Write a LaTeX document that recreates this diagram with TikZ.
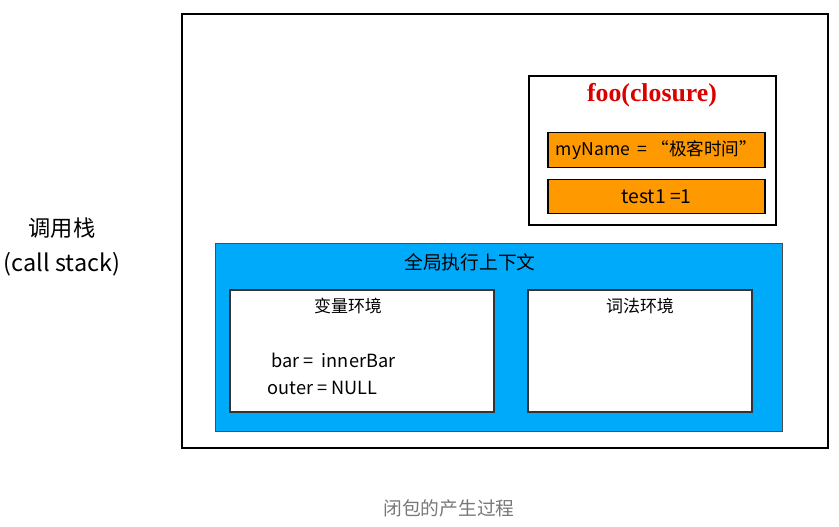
\documentclass[tikz,border=0pt]{standalone}
\usepackage{fontspec}
\setmainfont{Noto Sans CJK SC}
\newfontfamily\titlefont{Liberation Serif}
\usepackage{tikz}
\usetikzlibrary{positioning}
\definecolor{ctxblue}{RGB}{0,170,250}
\definecolor{varorange}{RGB}{255,153,0}
\definecolor{captiongray}{RGB}{120,120,120}
\tikzstyle{stackbox} =
[rectangle, minimum width = 19.38cm, minimum height = 13.02cm, inner sep=0pt,
draw=black, line width=2pt]
\tikzstyle{closurebox} =
[rectangle, minimum width = 7.41cm, minimum height = 4.47cm, inner sep=0pt,
draw=black, line width=1pt, fill=white]
\tikzstyle{varbox} =
[rectangle, minimum width = 6.51cm, minimum height = 1.03cm, inner sep=0pt,
text centered, draw=black, line width=1pt, fill=varorange, font=\fontsize{15}{17}\selectfont]
\tikzstyle{ctxbox} =
[rectangle, minimum width = 17.01cm, minimum height = 5.64cm, inner sep=0pt,
draw=black!70, line width=0.8pt, fill=ctxblue]
\tikzstyle{envbox} =
[rectangle, minimum height = 3.66cm, inner sep=0pt,
draw=black!80, line width=1pt, fill=white]
\tikzstyle{label} =
[inner sep=1pt, font=\fontsize{14.5}{16}\selectfont]

\begin{document}
\begin{tikzpicture}[x=0.03cm, y=-0.03cm]
  \useasboundingbox (0,0) rectangle (839,526);
  % call stack
  \node [stackbox] (stack) at (505,231) {};
  \node [inner sep=1pt, font=\fontsize{19}{21}\selectfont] (stackcn) at (62,228) {调用栈};
  \node [inner sep=1pt, font=\fontsize{20}{22}\selectfont, below=0.35cm of stackcn] (stacken) {(call stack)};
  %
  % closure
  \node [closurebox] (foo) at (652.5,150.5) {};
  \node [inner sep=0pt, text=red!85!black, font=\titlefont\bfseries\fontsize{22}{24}\selectfont]
    (footitle) at (652,95) {foo(closure)};
  \node [varbox] (myname) at (656.5,150) {myName \ = “极客时间”};
  \node [varbox, below=0.33cm of myname, font=\fontsize{16.5}{18}\selectfont] (test) {test1 =1};
  %
  % global execution context
  \node [ctxbox] (global) at (498.5,337) {};
  \node [label, font=\fontsize{16}{18}\selectfont] (globaltitle) at (470,262) {全局执行上下文};
  \node [envbox, minimum width = 7.92cm] (varenv) at (362,351) {};
  \node [envbox, minimum width = 6.72cm] (lexenv) at (640,351) {};
  \node [label] (vartitle) at (348,306) {变量环境};
  \node [label] (lextitle) at (640,306) {词法环境};
  \node [label, anchor=west, font=\fontsize{15.5}{17}\selectfont] (bar) at (270,360) {bar = \ innerBar};
  \node [label, anchor=west, font=\fontsize{15.5}{17}\selectfont] (outer) at (266,388) {outer = NULL};
  %
  % caption
  \node [label, text=captiongray, font=\fontsize{16}{18}\selectfont] (caption) at (449,508) {闭包的产生过程};
\end{tikzpicture}
\end{document}
